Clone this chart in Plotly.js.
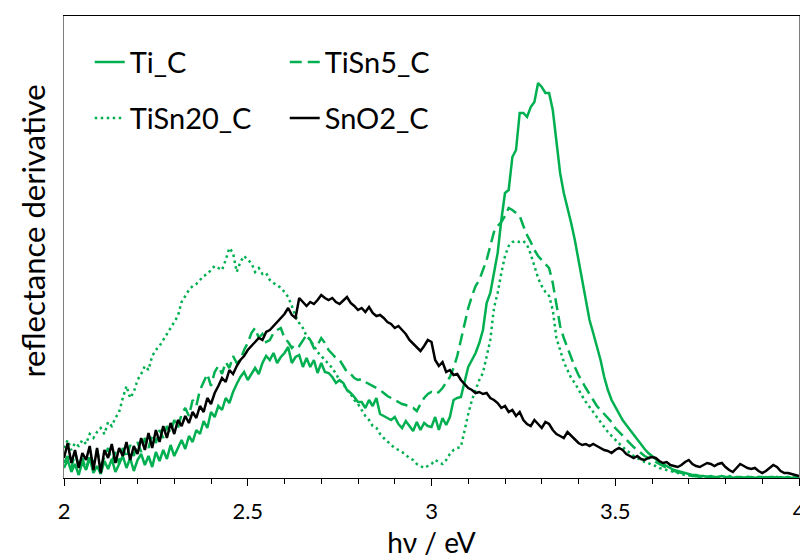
<!DOCTYPE html>
<html>
<head>
<meta charset="utf-8">
<script src="https://cdn.plot.ly/plotly-3.0.1.min.js"></script>
<style>html,body{margin:0;padding:0;background:#fff;}#chart{width:800px;height:559px;}</style>
</head>
<body>
<div id="chart"></div>
<script>
// photon energy grid: 2.00 ... 4.00 eV in 0.01 eV steps (x0 / dx below)
const xStart = 2.0;
const xStep = 0.01;
const seriesNames = ['Ti_C', 'TiSn5_C', 'TiSn20_C', 'SnO2_C'];
const tickVals = [2, 2.5, 3, 3.5, 4];
const tickText = ['2', '2.5', '3', '3.5', '4'];

// reflectance derivative (arbitrary units)
const tiC = [
  10,18,6,14,3,16,8,20,5,12,
  4,17,9,19,6,15,22,10,20,7,
  18,24,13,22,11,26,17,28,19,33,
  22,30,38,29,42,36,48,44,57,50,
  66,61,72,68,80,75,86,94,101,106,
  98,104,110,104,115,122,118,125,115,121,
  125,131,115,121,123,111,120,111,118,105,
  115,106,105,101,95,98,95,88,85,81,
  76,76,70,78,72,80,64,62,60,58,
  61,54,50,57,52,47,56,48,55,52,
  51,61,48,60,53,61,78,80,81,95,
  111,118,125,135,148,175,185,205,225,258,
  285,288,321,328,365,365,361,371,376,395,
  391,385,385,368,338,305,285,271,255,238,
  218,198,178,158,145,131,118,101,88,78,
  71,65,58,53,48,43,38,33,29,25,
  22,19,16,14,12,10,8,7,6,5,
  4,3,3,2,2,1,2,1,1,2,
  1,1,0,1,1,0,1,1,0,1,
  1,0,1,1,0,1,0,1,0,1,0
];
const tiSn5C = [
  15,22,10,25,12,20,8,24,14,28,
  12,22,30,16,26,14,30,20,33,22,
  36,26,40,30,44,35,48,40,52,45,
  58,50,64,70,62,78,72,88,96,104,
  92,106,112,104,116,110,122,115,118,128,
  135,145,150,140,144,136,138,145,148,150,
  140,136,130,134,132,137,143,138,130,133,
  140,135,128,124,120,118,112,106,104,100,
  98,99,96,94,92,90,88,85,82,80,
  78,76,74,73,71,70,67,74,80,84,
  86,84,86,90,95,101,110,122,138,155,
  170,182,192,198,208,218,232,246,252,256,
  262,270,268,265,262,252,243,236,228,222,
  218,215,210,195,172,152,140,130,120,111,
  103,96,90,84,78,72,68,64,60,56,
  50,46,42,38,34,31,28,25,22,20,
  18,16,14,12,10,8,7,6,5,4,
  3,2,2,1,2,1,1,0,1,1,
  0,1,0,0,1,0,1,0,0,1,
  0,1,0,0,1,0,0,1,0,0,1
];
const tiSn20C = [
  30,38,28,35,32,38,34,44,40,46,
  50,44,56,52,60,66,80,92,80,86,
  98,104,112,108,122,128,132,138,145,150,
  156,162,176,182,188,192,194,198,202,204,
  208,212,210,208,218,230,225,206,216,222,
  218,215,206,210,204,205,198,195,193,190,
  186,181,172,162,155,150,142,138,132,126,
  122,118,115,110,104,98,94,88,84,78,
  74,68,62,58,52,50,44,40,36,33,
  30,28,26,23,20,18,14,12,10,12,
  14,18,16,14,18,24,28,30,31,48,
  64,78,88,98,105,122,138,170,185,205,
  222,232,236,237,236,237,233,224,212,200,
  192,186,182,168,140,128,116,108,100,95,
  88,82,76,71,66,60,55,50,46,42,
  38,35,31,28,25,22,20,18,16,15,
  13,12,10,9,8,7,6,5,4,3,
  3,2,2,1,2,1,1,0,1,1,
  0,2,1,0,1,0,1,1,0,1,
  0,0,1,0,1,0,0,1,0,1,0
];
const snO2C = [
  20,35,15,28,10,25,18,32,8,30,
  5,28,20,34,15,30,22,36,18,32,
  24,40,28,45,30,48,36,52,40,55,
  44,58,52,62,55,66,60,72,66,80,
  74,85,92,100,96,108,104,112,118,122,
  128,132,136,140,138,146,148,152,156,160,
  164,170,163,160,180,176,172,176,174,178,
  183,180,178,180,176,174,178,181,175,172,
  168,170,166,171,165,162,163,160,156,154,
  150,152,148,144,138,134,130,127,132,138,
  136,118,112,116,106,108,103,104,98,94,
  90,88,85,86,84,85,80,78,75,70,
  72,66,68,62,66,58,54,52,58,54,
  50,56,54,48,44,42,40,46,42,38,
  35,33,34,32,34,32,30,28,27,25,
  28,30,28,24,22,20,22,19,18,20,
  21,20,17,15,16,13,12,11,13,16,
  18,14,12,11,13,15,14,12,14,15,
  11,8,6,10,14,12,10,9,10,7,
  5,7,10,13,11,7,5,5,4,3,2
];

const GREEN = '#00B050';
const FONT = 'Lato, "Open Sans", "DejaVu Sans", sans-serif';

function tr(y, name, color, dash, legend) {
  return {
    type: 'scatter', mode: 'lines', x0: xStart, dx: xStep, y: y, name: name,
    legend: legend,
    line: {color: color, width: 2.5, dash: dash},
    hoverinfo: 'skip'
  };
}

const data = [
  tr(tiC, seriesNames[0], GREEN, 'solid', 'legend'),
  tr(tiSn5C, seriesNames[1], GREEN, '12px,6px', 'legend'),
  tr(tiSn20C, seriesNames[2], GREEN, '2.5px,3.5px', 'legend2'),
  tr(snO2C, seriesNames[3], '#000000', 'solid', 'legend2')
];

const legendBase = {
  orientation: 'h', xanchor: 'left', yanchor: 'middle',
  entrywidth: 150, bgcolor: 'rgba(0,0,0,0)', borderwidth: 0,
  font: {family: FONT, size: 29, color: '#000'},
  itemclick: false, itemdoubleclick: false
};

const layout = {
  width: 800, height: 559,
  margin: {l: 64, r: 1, t: 16, b: 81, pad: 0},
  paper_bgcolor: '#fff', plot_bgcolor: '#fff',
  font: {family: FONT, color: '#000'},
  showlegend: true,
  legend: Object.assign({}, legendBase, {x: 0.035, y: 0.90}),
  legend2: Object.assign({}, legendBase, {x: 0.035, y: 0.779}),
  xaxis: {
    range: [2, 4], tickmode: 'array', tickvals: tickVals, ticktext: tickText,
    ticks: 'outside', ticklen: 7, tickwidth: 1, tickcolor: '#000',
    minor: {dtick: 0.1, tick0: 2, ticks: 'outside', ticklen: 5, tickwidth: 1, tickcolor: '#000', showgrid: false},
    showline: true, linecolor: '#000', linewidth: 1, mirror: true,
    showgrid: false, zeroline: false,
    tickfont: {family: FONT, size: 22, color: '#000'},
    ticklabelstandoff: 7,
    ticklabeloverflow: 'allow',
    title: {text: 'hν / eV', font: {family: FONT, size: 28, color: '#000'}, standoff: 20}
  },
  yaxis: {
    range: [0, 462], showticklabels: false, ticks: '',
    showline: true, linecolor: '#7f7f7f', linewidth: 1, mirror: true,
    showgrid: false, zeroline: false
  },
  annotations: [{
    text: 'reflectance derivative', xref: 'paper', yref: 'paper',
    x: -0.0435, y: 0.5335, xanchor: 'center', yanchor: 'middle',
    textangle: -90, showarrow: false,
    font: {family: FONT, size: 31, color: '#000'}
  }]
};

Plotly.newPlot('chart', data, layout, {staticPlot: true, displayModeBar: false});
</script>
</body>
</html>
